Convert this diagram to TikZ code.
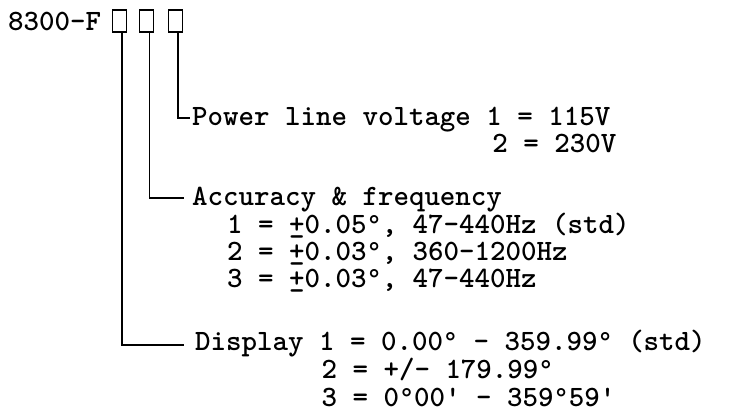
\documentclass[tikz,border=0pt]{standalone}
\usepackage{fontspec}
\newcommand{\pmtyped}{\rlap{\_}+}
\newcommand{\dg}{{\mdseries °}}
\begin{document}
\begin{tikzpicture}[x=1pt,y=-1pt]
\useasboundingbox (0,0) rectangle (732,418);
\tikzset{
  txt/.style={anchor=base west, inner sep=0pt, font=\fontsize{29.5}{29.5}\selectfont\ttfamily\bfseries},
  box/.style={draw, line width=1.8pt, minimum width=14pt, minimum height=22pt, inner sep=0pt},
  conn/.style={line width=1.7pt}
}
\node[txt] (pn) at (8,30) {8300-F};
\node[box] (b1) at (119.5,21) {};
\node[box] (b2) at (146.5,21) {};
\node[box] (b3) at (175.5,21) {};
\coordinate (c3) at (190,118);
\coordinate (c2) at (184,198);
\coordinate (c1) at (184,345);
\draw[conn] ([xshift=2.5pt]b3.south) |- (c3);
\draw[conn] ([xshift=3pt]b2.south) |- (c2);
\draw[conn] ([xshift=2.5pt]b1.south) |- (c1);
\node[txt] (pw) at (192,125) {Power line voltage 1 = 115V};
\node[txt] (pw2) at (492.2,152) {2 = 230V};
\node[txt] (ac) at (192,205) {Accuracy \& frequency};
\node[txt] (ac1) at (227,233) {1 = \pmtyped0.05\dg, 47-440Hz (std)};
\node[txt] (ac2) at (227,260) {2 = \pmtyped0.03\dg, 360-1200Hz};
\node[txt] (ac3) at (227,287) {3 = \pmtyped0.03\dg, 47-440Hz};
\node[txt] (di) at (195,350) {Display 1 = 0.00\dg{} - 359.99\dg{} (std)};
\node[txt] (di2) at (321.4,378) {2 = +/- 179.99\dg};
\node[txt] (di3) at (321.4,406) {3 = 0\dg00' - 359\dg59'};
\end{tikzpicture}
\end{document}
